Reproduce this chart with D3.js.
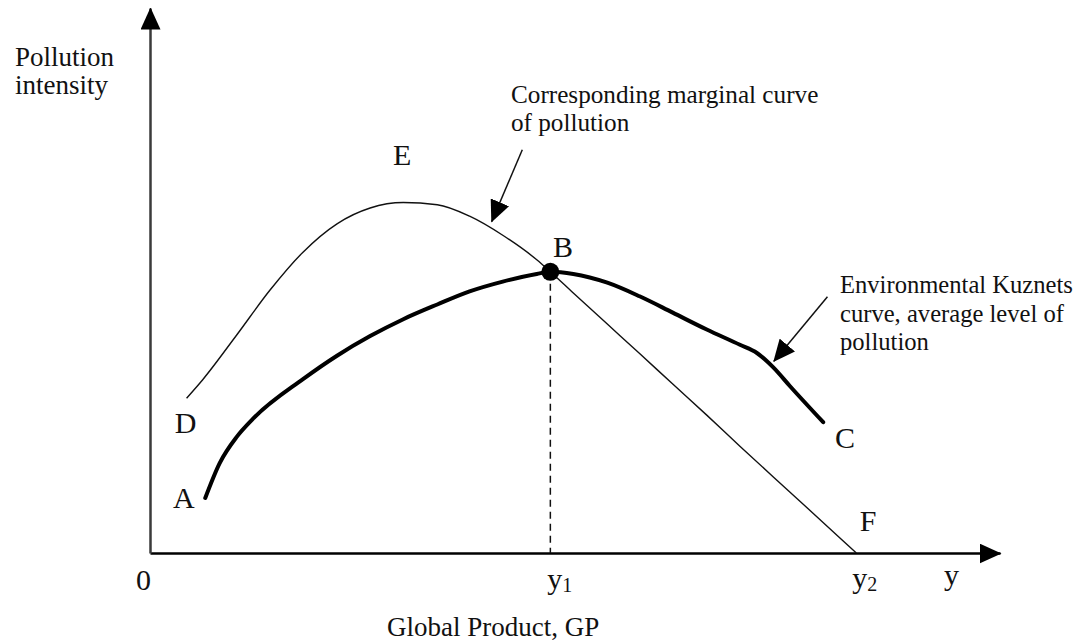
<!DOCTYPE html>
<html>
<head>
<meta charset="utf-8">
<script src="https://cdn.jsdelivr.net/npm/d3@7"></script>
<style>
  body { margin: 0; background: #fff; }
  text { font-family: "Liberation Serif", "Times New Roman", serif; fill: #111; }
</style>
</head>
<body>
<div class="chart"></div>
<script>
/** Curve values (GP on x, pollution intensity on y, both 0..100) */
const marginalGP  = [4.3, 6.2, 10.2, 14.1, 18.0, 22.0, 25.9, 29.8, 33.8, 37.6, 41.5, 45.5, 47.1,
                     49.8, 53.8, 57.6, 61.5, 65.5, 69.4, 73.3, 77.3, 81.2, 83.1];
const marginalVal = [28.4, 31.8, 40.0, 48.2, 55.2, 60.4, 63.3, 64.3, 63.9, 61.8, 58.3, 53.8, 51.6,
                     47.7, 42.0, 36.6, 31.0, 25.3, 19.6, 14.0, 8.3, 2.7, 0];

const kuznetsGP  = [6.5, 8.2, 10.2, 12.1, 18.0, 22.0, 25.9, 29.8, 33.8, 37.6, 41.5, 45.5, 47.1,
                    49.8, 53.8, 57.6, 61.5, 65.5, 69.4, 71.4, 73.3, 75.3, 79.2];
const kuznetsVal = [10.1, 16.5, 21.3, 24.6, 31.9, 36.2, 39.8, 42.9, 45.6, 48.0, 49.8, 51.2, 51.6,
                    51.2, 49.6, 47.1, 44.1, 41.0, 38.2, 36.7, 34.1, 30.6, 24.0];

/** Points B and F on the GP axis */
const y1Value = 47.1, y1Intensity = 51.6;
const y2Value = 83.1;

/** Point labels: name, GP, intensity */
const pointNames = ['E', 'B', 'D', 'A', 'C', 'F'];
const pointGP    = [28.6, 47.4, 2.9, 2.7, 80.6, 83.5];
const pointVal   = [71.2, 54.3, 22.0, 8.3, 19.3, 4.0];

/** Set up canvas */
let width = 1078, height = 644;
let svg = d3.select('.chart').append('svg')
    .attr('width', width)
    .attr('height', height);

let x = d3.scaleLinear().domain([0, 100]).range([150, 1000]);
let y = d3.scaleLinear().domain([0, 100]).range([553, 8]);

/** arrow heads */
let defs = svg.append('defs');
defs.append('marker')
    .attr('id', 'axisHead')
    .attr('markerUnits', 'userSpaceOnUse')
    .attr('viewBox', '0 0 22 20')
    .attr('markerWidth', 22).attr('markerHeight', 20)
    .attr('refX', 21).attr('refY', 10)
    .attr('orient', 'auto')
    .append('path').attr('d', 'M0,0L22,10L0,20Z').attr('fill', '#000');
defs.append('marker')
    .attr('id', 'noteHead')
    .attr('markerUnits', 'userSpaceOnUse')
    .attr('viewBox', '0 0 22 20')
    .attr('markerWidth', 22).attr('markerHeight', 20)
    .attr('refX', 21).attr('refY', 10)
    .attr('orient', 'auto')
    .append('path').attr('d', 'M0,0L22,10L0,20Z').attr('fill', '#000');

/** axes: plain lines with arrows, no ticks */
let xAxisG = svg.append('g')
    .attr('transform', `translate(0, ${y(0)})`)
    .call(d3.axisBottom(x).tickValues([]).tickSizeOuter(0));
xAxisG.select('.domain')
    .attr('stroke', '#000')
    .attr('stroke-width', 2.5)
    .attr('marker-end', 'url(#axisHead)');

let yAxisG = svg.append('g')
    .attr('transform', `translate(${x(0)}, 0)`)
    .call(d3.axisLeft(y).tickValues([]).tickSizeOuter(0));
yAxisG.select('.domain')
    .attr('stroke', '#3a3a3a')
    .attr('stroke-width', 2.5)
    .attr('marker-end', 'url(#axisHead)');

/** dashed drop line from B */
svg.append('line')
    .attr('x1', x(y1Value)).attr('x2', x(y1Value))
    .attr('y1', y(y1Intensity)).attr('y2', y(0))
    .attr('stroke', '#111')
    .attr('stroke-width', 1.5)
    .attr('stroke-dasharray', '7,5');

/** curves */
let lineGen = d3.line()
    .x(d => x(d[0]))
    .y(d => y(d[1]))
    .curve(d3.curveMonotoneX);

svg.append('path')
    .datum(d3.zip(marginalGP, marginalVal))
    .attr('d', lineGen)
    .attr('fill', 'none')
    .attr('stroke', '#111')
    .attr('stroke-width', 1.4);

svg.append('path')
    .datum(d3.zip(kuznetsGP, kuznetsVal))
    .attr('d', lineGen)
    .attr('fill', 'none')
    .attr('stroke', '#000')
    .attr('stroke-width', 4)
    .attr('stroke-linecap', 'round');

svg.append('circle')
    .attr('cx', x(y1Value))
    .attr('cy', y(y1Intensity))
    .attr('r', 9)
    .attr('fill', '#000');

/** point letters */
svg.selectAll('.pointLabel')
    .data(d3.zip(pointNames, pointGP, pointVal))
    .enter()
    .append('text')
    .attr('class', 'pointLabel')
    .attr('x', d => x(d[1]))
    .attr('y', d => y(d[2]))
    .style('font-size', '30px')
    .text(d => d[0]);

/** axis labels */
svg.append('text')
    .attr('x', x(0) + 1).attr('y', 590)
    .attr('text-anchor', 'end')
    .style('font-size', '30px')
    .text('0');

let y1Text = svg.append('text')
    .attr('x', x(y1Value) - 3).attr('y', 589)
    .style('font-size', '30px')
    .text('y');
y1Text.append('tspan').attr('dy', 3).style('font-size', '20px').text('1');

let y2Text = svg.append('text')
    .attr('x', x(y2Value) - 4).attr('y', 588)
    .style('font-size', '30px')
    .text('y');
y2Text.append('tspan').attr('dy', 3).style('font-size', '20px').text('2');

svg.append('text')
    .attr('x', 944).attr('y', 585)
    .style('font-size', '30px')
    .text('y');

svg.append('text')
    .attr('x', 387).attr('y', 636)
    .style('font-size', '27px')
    .text('Global Product, GP');

let yTitle = svg.append('text')
    .attr('x', 15).attr('y', 66)
    .style('font-size', '27px');
yTitle.append('tspan').attr('x', 15).text('Pollution');
yTitle.append('tspan').attr('x', 15).attr('dy', 28).text('intensity');

/** annotations */
let note1 = svg.append('text')
    .attr('x', 511).attr('y', 103)
    .style('font-size', '25.2px');
note1.append('tspan').attr('x', 511).text('Corresponding marginal curve');
note1.append('tspan').attr('x', 511).attr('dy', 28).text('of pollution');

let note2 = svg.append('text')
    .attr('x', 840).attr('y', 293)
    .style('font-size', '24.6px');
note2.append('tspan').attr('x', 840).text('Environmental Kuznets');
note2.append('tspan').attr('x', 840).attr('dy', 28.5).text('curve, average level of');
note2.append('tspan').attr('x', 840).attr('dy', 28.5).text('pollution');

/** note arrows, in chart units */
const arrowFromGP  = [43.8, 79.7];
const arrowFromVal = [74.0, 47.0];
const arrowToGP    = [40.2, 73.4];
const arrowToVal   = [60.8, 35.2];

svg.selectAll('.noteArrow')
    .data(d3.range(arrowFromGP.length))
    .enter()
    .append('line')
    .attr('class', 'noteArrow')
    .attr('x1', i => x(arrowFromGP[i])).attr('y1', i => y(arrowFromVal[i]))
    .attr('x2', i => x(arrowToGP[i])).attr('y2', i => y(arrowToVal[i]))
    .attr('stroke', '#111')
    .attr('stroke-width', 1.5)
    .attr('marker-end', 'url(#noteHead)');
</script>
</body>
</html>
